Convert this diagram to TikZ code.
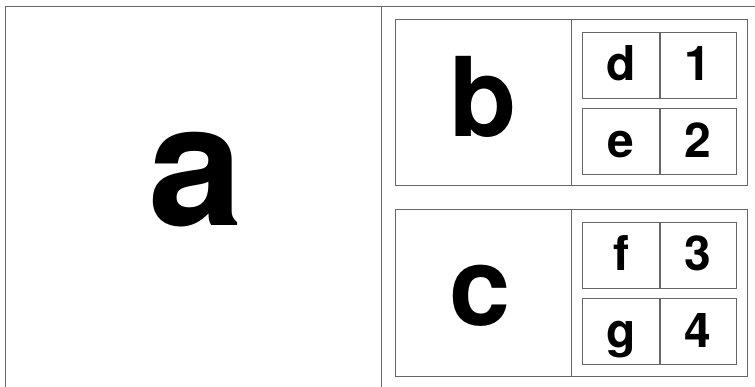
\documentclass[tikz,border=0pt]{standalone}
\usepackage{fontspec}
\setmainfont{TeX Gyre Heros}
\usetikzlibrary{positioning}

\tikzset{
	frame/.style={draw=black!60, line width=0.8pt},
	cell/.style={frame, minimum width=76.5pt, minimum height=66pt, inner sep=0pt,
		font=\fontsize{48}{48}\selectfont\bfseries, text height=35pt, text depth=3pt},
	big/.style={anchor=base, inner sep=0pt, font=\fontsize{110}{110}\selectfont\bfseries},
}

\begin{document}
\begin{tikzpicture}[x=1pt,y=-1pt]
	\useasboundingbox (0,0) rectangle (755,387);
	% outer frame
	\draw[frame] (5,387) -- (5,6) -- (755,6);
	\draw[frame] (381,6) -- (381,387);
	\node[big, font=\fontsize{170}{170}\selectfont\bfseries] (a) at (196,226) {a};
	% upper panel
	\draw[frame] (395,19) rectangle (747,185);
	\draw[frame] (571,19) -- (571,185);
	\node[big] (b) at (483,137) {b};
	\node[cell] (d) at (621,65) {d};
	\node[cell, right=0pt of d] (one) {1};
	\node[cell, below=10pt of d] (e) {e};
	\node[cell, right=0pt of e] (two) {2};
	% lower panel
	\draw[frame] (395,209) rectangle (747,376);
	\draw[frame] (571,209) -- (571,376);
	\node[big] (c) at (480,326) {c};
	\node[cell] (f) at (621,255) {f};
	\node[cell, right=0pt of f] (three) {3};
	\node[cell, below=10pt of f] (g) {g};
	\node[cell, right=0pt of g] (four) {4};
\end{tikzpicture}
\end{document}
